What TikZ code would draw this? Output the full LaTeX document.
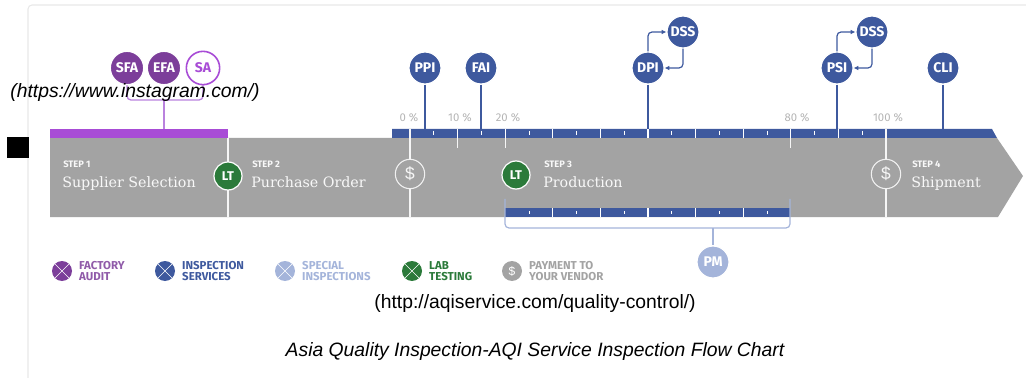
\documentclass[tikz,border=0pt]{standalone}
\usepackage{fontspec}
\setmainfont{Liberation Sans}
\newfontfamily\slabfont{DejaVu Serif}
\newfontfamily\tagfont{Fira Sans}
\usetikzlibrary{calc,arrows.meta,positioning}

\definecolor{bandgray}{RGB}{163,163,163}
\definecolor{auditpurple}{RGB}{124,62,154}
\definecolor{barpurple}{RGB}{168,76,214}
\definecolor{brackpurple}{RGB}{186,130,222}
\definecolor{inspblue}{RGB}{62,89,158}
\definecolor{speclblue}{RGB}{164,180,218}
\definecolor{labgreen}{RGB}{43,122,58}
\definecolor{pctgray}{RGB}{180,180,180}
\definecolor{framegray}{RGB}{232,232,232}

\tikzset{
  tag/.style={circle, fill=inspblue, draw=white, line width=0.9pt, minimum size=24pt,
    inner sep=0pt, text=white, font=\tagfont\bfseries\fontsize{10.5}{10.5}\selectfont},
  audittag/.style={tag, fill=auditpurple, minimum size=25pt},
  opentag/.style={tag, fill=white, draw=barpurple, line width=1.2pt, text=barpurple, minimum size=25pt},
  labtag/.style={tag, fill=labgreen, minimum size=21pt, font=\tagfont\bfseries\fontsize{9.5}{9.5}\selectfont},
  paytag/.style={circle, fill=bandgray, draw=white!85!bandgray, line width=0.8pt, minimum size=22pt,
    inner sep=0pt, text=white!90!bandgray, font=\fontsize{13}{13}\selectfont},
  stem/.style={inspblue, line width=1.1pt},
  looparrow/.style={inspblue, line width=0.9pt, rounded corners=3pt, -{Latex[length=3.5pt,width=3.5pt]}},
  pct/.style={text=pctgray, inner sep=0pt, font=\tagfont\fontsize{8.5}{8.5}\selectfont},
  steptag/.style={text=white!92!bandgray, inner sep=0pt, anchor=base west, font=\tagfont\bfseries\fontsize{7}{7}\selectfont},
  steptitle/.style={text=white!92!bandgray, inner sep=0pt, anchor=base west, font=\slabfont\fontsize{10.7}{10.7}\selectfont},
  legicon/.style={circle, minimum size=15pt, inner sep=0pt, path picture={
    \draw[white, line width=0.5pt] (path picture bounding box.north west) -- (path picture bounding box.south east)
      (path picture bounding box.south west) -- (path picture bounding box.north east);}},
  legtext/.style={inner sep=0pt, align=left, font=\tagfont\bfseries\fontsize{8.6}{8}\selectfont},
  url/.style={inner sep=0pt, font=\fontsize{14.5}{14.5}\selectfont}
}

\begin{document}
\begin{tikzpicture}[x=0.75pt,y=0.75pt,yscale=-1,xscale=1]
\useasboundingbox (0,0) rectangle (1026,378);

% Rahmen
\draw[framegray, line width=0.8pt, rounded corners=3pt] (28,378) -- (28,5) -- (1026,5);
% Marke
\fill (7,137) rectangle (29,158);

% Band
\fill[bandgray] (50,138) -- (997,138) -- (1023,176) -- (998,217) -- (50,217) -- cycle;
% Balken oben
\fill[barpurple] (50,129) rectangle (228,138);
\fill[inspblue] (392,129) -- (992,129) -- (997,138) -- (392,138) -- cycle;
% Balken unten
\fill[inspblue] (505,208) rectangle (790,217);

% Trennlinien
\draw[white!90!bandgray, line width=1pt] (228,138) -- (228,217);
\draw[white!90!bandgray, line width=1pt] (410,129) -- (410,217);
\draw[white!90!bandgray, line width=1pt] (886,129) -- (886,217);

% Skala
\foreach \k in {1,...,9}
  \draw[white, line width=0.8pt] (410+47.6*\k,129) -- (410+47.6*\k,138);
\foreach \k in {0,...,9}
  \draw[white, line width=0.6pt] (433.8+47.6*\k,131) -- (433.8+47.6*\k,135);
\foreach \k in {1,2,8}
  \draw[white!90!bandgray, line width=0.8pt] (410+47.6*\k,138) -- (410+47.6*\k,148);
\foreach \k in {3,...,7}
  \draw[white, line width=0.8pt] (410+47.6*\k,208) -- (410+47.6*\k,217);
\foreach \k in {2,...,7}
  \draw[white, line width=0.6pt] (433.8+47.6*\k,211) -- (433.8+47.6*\k,214);

% Prozent
\node[pct] (p0) at (409,118) {0 \%};
\node[pct] (p10) at (460,118) {10 \%};
\node[pct] (p20) at (508,118) {20 \%};
\node[pct] (p80) at (797,118) {80 \%};
\node[pct] (p100) at (888,118) {100 \%};

% Schritte
\node[steptag] (s1) at (63,168) {STEP 1};
\node[steptitle] (t1) at (62,187) {Supplier Selection};
\node[steptag] (s2) at (252,168) {STEP 2};
\node[steptitle] (t2) at (251,187) {Purchase Order};
\node[steptag] (s3) at (544,168) {STEP 3};
\node[steptitle] (t3) at (543,187) {Production};
\node[steptag] (s4) at (912,168) {STEP 4};
\node[steptitle] (t4) at (911,187) {Shipment};

% LT / Zahlung
\node[labtag] (lt1) at (228,176) {LT};
\node[labtag] (lt2) at (516,175) {LT};
\node[paytag] (pay1) at (410,174) {\$};
\node[paytag] (pay2) at (886,174) {\$};

% Audit
\coordinate (bartop) at (0,129);
\coordinate (fajoin) at (164,100);
\draw[brackpurple, line width=1pt, rounded corners=3pt] (127,80) |- (fajoin) -| (203,80);
\draw[brackpurple, line width=1pt] (fajoin) -- (fajoin |- bartop);
\node[audittag] (sfa) at (127,68) {SFA};
\node[audittag] (efa) at (164,68) {EFA};
\node[opentag] (sa) at (203,68) {SA};
\node[url, font=\fontsize{14.5}{14.5}\selectfont\itshape] (insta) at (135,93) {(https://www.instagram.com/)};

% Inspektionen
\node[tag] (ppi) at (425,68) {PPI};
\node[tag] (fai) at (481,68) {FAI};
\node[tag] (dpi) at (648,68) {DPI};
\node[tag] (dss1) at (683,32) {DSS};
\node[tag] (psi) at (837,68) {PSI};
\node[tag] (dss2) at (872,32) {DSS};
\node[tag] (cli) at (943,68) {CLI};
\foreach \n in {ppi,fai,dpi,psi,cli}
  \draw[stem] (\n) -- (\n |- bartop);
\draw[looparrow] (dpi.north) |- (dss1.west);
\draw[looparrow] (dss1.south) |- (dpi.east);
\draw[looparrow] (psi.north) |- (dss2.west);
\draw[looparrow] (dss2.south) |- (psi.east);

% PM
\coordinate (pmleft) at (505,199);
\coordinate (pmright) at (790,199);
\coordinate (pmjoin) at (713,228);
\draw[speclblue, line width=0.9pt, rounded corners=3pt] (pmleft) |- (pmjoin) -| (pmright);
\node[tag, fill=speclblue] (pm) at (713,262) {PM};
\draw[speclblue, line width=0.9pt] (pmjoin) -- (pm);

% Legende
\node[legicon, fill=auditpurple] (legfa) at (62,271) {};
\node[legtext, text=auditpurple!85!white, right=5pt of legfa] (legfatxt) {FACTORY\\AUDIT};
\node[legicon, fill=inspblue] (legis) at (165,271) {};
\node[legtext, text=inspblue, right=5pt of legis] (legistxt) {INSPECTION\\SERVICES};
\node[legicon, fill=speclblue] (legsi) at (285,271) {};
\node[legtext, text=speclblue, right=5pt of legsi] (legsitxt) {SPECIAL\\INSPECTIONS};
\node[legicon, fill=labgreen] (leglt) at (412,271) {};
\node[legtext, text=labgreen, right=5pt of leglt] (legltxt) {LAB\\TESTING};
\node[circle, fill=bandgray, minimum size=15pt, inner sep=0pt, text=white, font=\fontsize{9}{9}\selectfont] (legpay) at (512,271) {\$};
\node[legtext, text=bandgray, right=5pt of legpay] (legpaytxt) {PAYMENT TO\\YOUR VENDOR};

% Quellen
\node[url] (aqi) at (535,304) {(http://aqiservice.com/quality-control/)};
\node[url, font=\fontsize{14.5}{14.5}\selectfont\itshape] (caption) at (535,352) {Asia Quality Inspection-AQI Service Inspection Flow Chart};

\end{tikzpicture}
\end{document}
